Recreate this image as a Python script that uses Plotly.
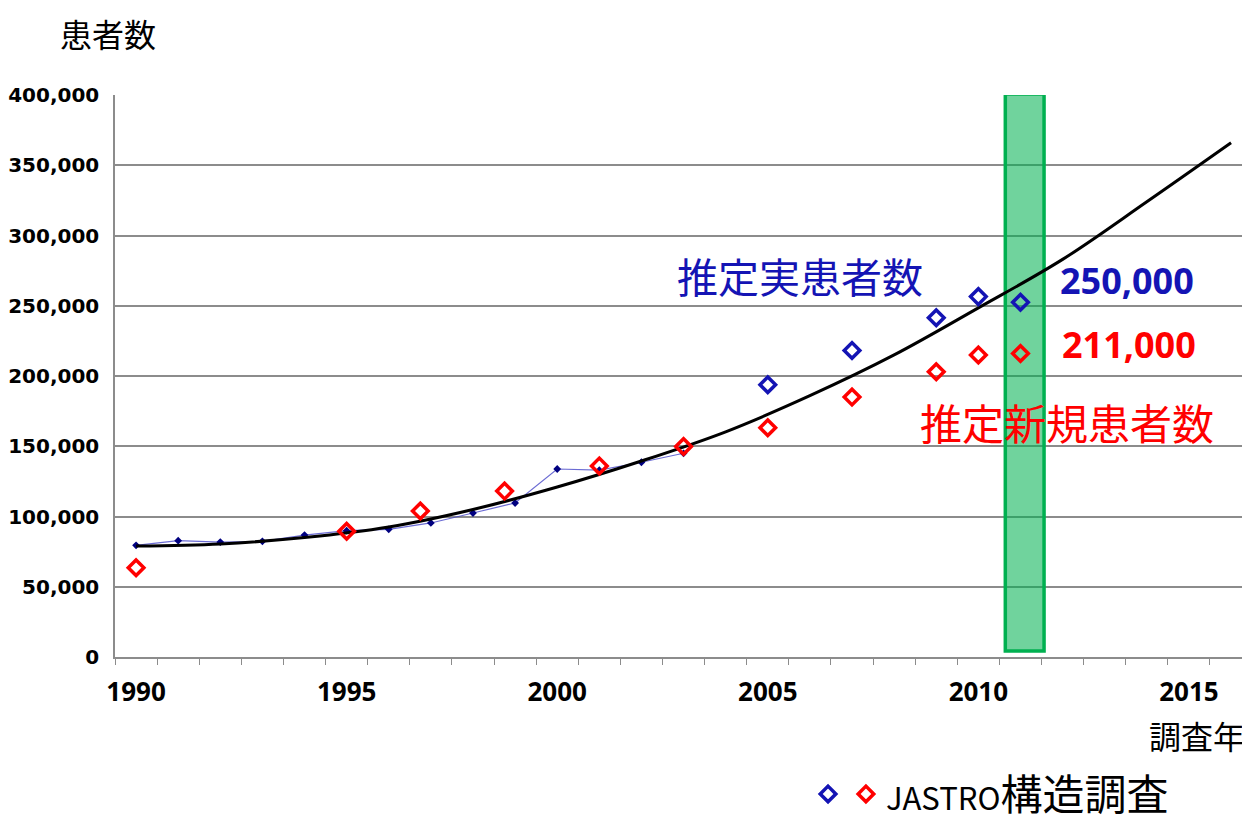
import plotly.graph_objects as go

# --- data ---
trend_years = [1990, 1992, 1994, 1996, 1998, 2000, 2002, 2004, 2006, 2008, 2010, 2012, 2014, 2016]
trend_vals = [79000, 80500, 85000, 92500, 105000, 121000, 139500, 160300, 186000, 215000, 248500, 283000, 324000, 366000]

yearly_years = [1990, 1991, 1992, 1993, 1994, 1995, 1996, 1997, 1998, 1999, 2000, 2001, 2002, 2003]
yearly_vals = [79500, 82800, 81800, 82300, 86800, 89900, 90900, 95400, 102500, 109600, 133800, 133000, 138600, 145000]

actual_years = [2005, 2007, 2009, 2010, 2011]
actual_vals = [193800, 218200, 241500, 256500, 252500]

new_years = [1990, 1995, 1996.75, 1998.75, 2001, 2003, 2005, 2007, 2009, 2010, 2011]
new_vals = [63500, 89500, 103900, 118100, 136000, 149800, 163200, 185000, 203000, 215000, 216000]

x_tick_vals = [1990, 1995, 2000, 2005, 2010, 2015]
y_tick_vals = [0, 50000, 100000, 150000, 200000, 250000, 300000, 350000, 400000]
y_tick_text = ["0", "50,000", "100,000", "150,000", "200,000", "250,000", "300,000", "350,000", "400,000"]

highlight_year_span = [2010.64, 2011.56]

BLUE = "#1414b4"
RED = "#ff0000"
CJK = "Noto Sans CJK JP"

fig = go.Figure()

fig.add_trace(go.Scatter(
    x=yearly_years, y=yearly_vals, mode="lines+markers",
    line=dict(color="rgba(70,70,200,0.8)", width=1.2),
    marker=dict(symbol="diamond", size=6, color="#000080"),
    showlegend=False, hoverinfo="skip"))

fig.add_trace(go.Scatter(
    x=trend_years, y=trend_vals, mode="lines",
    line=dict(color="black", width=3, shape="spline", smoothing=1.0),
    showlegend=False, hoverinfo="skip"))

fig.add_trace(go.Scatter(
    x=actual_years, y=actual_vals, mode="markers", name="", legend="legend",
    marker=dict(symbol="diamond-open", size=12, color=BLUE, line=dict(width=3.5, color=BLUE))))

fig.add_trace(go.Scatter(
    x=new_years, y=new_vals, mode="markers", legend="legend2",
    name='<span style="font-size:31px">JASTRO</span>構造調査',
    marker=dict(symbol="diamond-open", size=12, color=RED, line=dict(width=3.5, color=RED))))

fig.add_shape(type="rect", xref="x", yref="y",
              x0=highlight_year_span[0], x1=highlight_year_span[1], y0=4200, y1=400700,
              fillcolor="rgba(0,176,80,0.56)", line=dict(color="#00b050", width=3.5),
              layer="between")

def note(text, x, y, size, color, xref="paper", yref="paper", xanchor="center", family=CJK, weight="normal"):
    return dict(text=text, xref=xref, yref=yref, x=x, y=y, xanchor=xanchor, yanchor="middle",
                showarrow=False, font=dict(family=family, size=size, color=color, weight=weight))

ann = [
    note("患者数", -0.006, 1.11, 32, "black"),
    note("調査年", 0.953, -0.139, 32, "black"),
    note("推定実患者数", 2005.76, 271900, 41, BLUE, "x", "y"),
    note("推定新規患者数", 2012.1, 167300, 42, RED, "x", "y"),
    note("250,000", 2011.89, 268300, 36, BLUE, "x", "y", "left", "Open Sans", "bold"),
    note("211,000", 2011.93, 222100, 36, RED, "x", "y", "left", "Open Sans", "bold"),
]

legend_common = dict(orientation="h", y=-0.244, xanchor="left", yanchor="middle",
                     font=dict(family=CJK, size=42, color="black"),
                     bgcolor="rgba(0,0,0,0)", itemsizing="trace")

fig.update_layout(
    width=1242, height=815,
    margin=dict(l=107, r=0, t=87, b=166, autoexpand=False),
    paper_bgcolor="white", plot_bgcolor="white",
    annotations=ann,
    legend=dict(x=0.6106, **legend_common),
    legend2=dict(x=0.644, **legend_common),
    xaxis=dict(range=[1989.5, 2016.45], tickvals=x_tick_vals, ticktext=[str(v) for v in x_tick_vals],
               showgrid=False, zeroline=False, showline=True, linecolor="#8c8c8c", linewidth=1.5,
               ticks="", ticklabelstandoff=11,
               tickfont=dict(family="Open Sans", size=26, color="black", weight="bold"),
               minor=dict(tick0=1990.5, dtick=1, ticks="outside", ticklen=6, tickcolor="#8c8c8c",
                          tickwidth=1.2, showgrid=False)),
    yaxis=dict(range=[0, 400000], tickvals=y_tick_vals, ticktext=y_tick_text,
               showgrid=True, gridcolor="#8c8c8c", gridwidth=1.5, zeroline=False,
               showline=True, linecolor="#8c8c8c", linewidth=1.5, ticks="", ticklabelstandoff=10,
               tickfont=dict(family="DejaVu Sans", size=20, color="black", weight="bold")),
)

fig.write_html("out.html")
